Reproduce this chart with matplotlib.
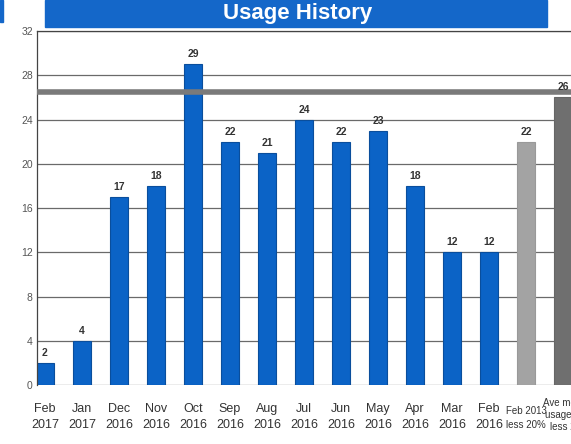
import numpy as np
import matplotlib.pyplot as plt
import matplotlib.transforms as mtransforms
from matplotlib.patches import Rectangle

plt.rcParams['font.family'] = ['Liberation Sans', 'DejaVu Sans']

months = ['Feb\n2017', 'Jan\n2017', 'Dec\n2016', 'Nov\n2016', 'Oct\n2016', 'Sep\n2016',
          'Aug\n2016', 'Jul\n2016', 'Jun\n2016', 'May\n2016', 'Apr\n2016', 'Mar\n2016',
          'Feb\n2016']
usage = [2, 4, 17, 18, 29, 22, 21, 24, 22, 23, 18, 12, 12]
extra_labels = ['Feb 2013\nless 20%', 'Ave monthly\nusage 2016\nless 20%']
extra_values = [22, 26]
target_line = 26.5
yticks = np.arange(0, 33, 4)

W, H = 571, 444
fig = plt.figure(figsize=(W / 100, H / 100), dpi=100)
ax = fig.add_axes([37 / W, (H - 385) / H, (W - 37) / W, (385 - 31) / H])

x = np.arange(len(usage) + len(extra_values))
vals = usage + extra_values
colors = ['#0B63C6'] * len(usage) + ['#A3A3A3', '#6F6F6F']
edges = ['#0A4E9C'] * len(usage) + ['#999999', '#666666']

ax.set_axisbelow(True)
ax.grid(axis='y', color='#6a6a6a', lw=0.9)
ax.bar(x, vals, width=0.49, color=colors, edgecolor=edges, lw=0.8, zorder=2)
ax.axhline(target_line, color='#7a7a7a', lw=4, zorder=3)

for xi, v in zip(x, vals):
    ax.text(xi, v + 0.45, str(v), ha='center', va='bottom', fontsize=7.5,
            fontweight='bold', color='#333333')

ax.set_xlim(-0.216, -0.216 + (W - 37) / 37)
ax.set_ylim(0, 32)
ax.set_yticks(yticks)
ax.set_yticklabels([str(t) for t in yticks], fontsize=7.5, color='#555555')
ax.set_xticks(x)
ax.set_xticklabels(months + extra_labels, fontsize=9, color='#333333', linespacing=1.4)
ax.tick_params(axis='x', length=0, pad=13)
ax.tick_params(axis='y', length=0, pad=3)

labs = ax.get_xticklabels()
labs[-2].set_fontsize(7)
labs[-2].set_linespacing(1.5)
labs[-2].set_transform(labs[-2].get_transform() +
                       mtransforms.ScaledTranslation(0, -2 / 72, fig.dpi_scale_trans))
labs[-1].set_fontsize(7)
labs[-1].set_linespacing(1.3)
labs[-1].set_transform(labs[-1].get_transform() +
                       mtransforms.ScaledTranslation(7 / 100, 4 / 72, fig.dpi_scale_trans))

for s in ['left', 'top']:
    ax.spines[s].set_color('#444444')
    ax.spines[s].set_linewidth(0.9)
ax.spines['right'].set_visible(False)
ax.spines['bottom'].set_visible(False)

# title banner
fig.patches.append(Rectangle((45 / W, (H - 27) / H), 502 / W, 27 / H,
                             transform=fig.transFigure, color='#1467C9', zorder=0))
fig.patches.append(Rectangle((0, (H - 22) / H), 3 / W, 22 / H,
                             transform=fig.transFigure, color='#1467C9', zorder=0))
fig.text(298 / W, (H - 14) / H, 'Usage History', ha='center', va='center',
         fontsize=16, fontweight='bold', color='white')

plt.savefig('out.png', dpi=100)
